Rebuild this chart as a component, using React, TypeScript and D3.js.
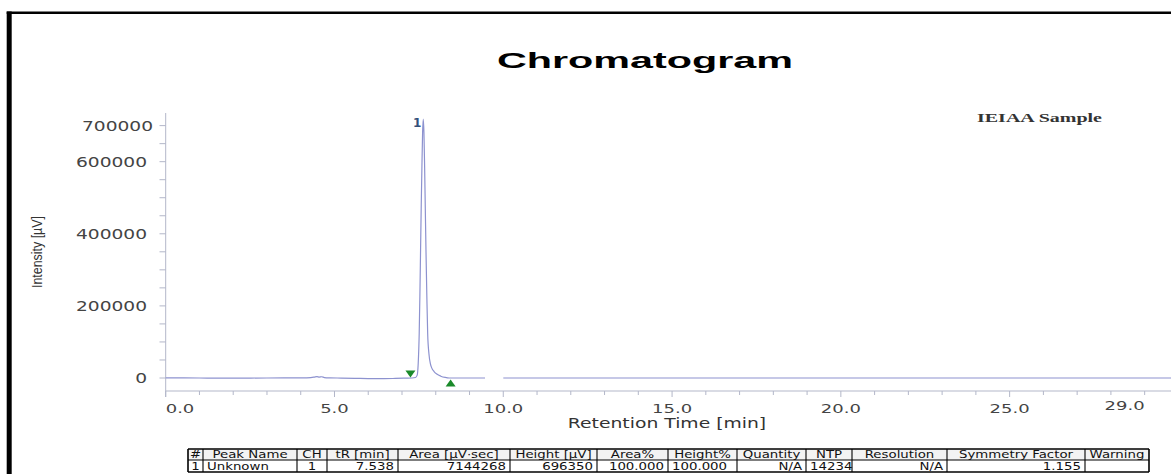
import React from 'react';
import * as d3 from 'd3';

// ---- data ----
const timeMin: number[] = [
  0, 0.5, 1.0, 1.5, 2.0, 2.5, 3.0, 3.5, 4.0, 4.3, 4.4, 4.48, 4.55, 4.62, 4.7, 4.85,
  5.2, 5.6, 6.0, 6.4, 6.8, 7.1, 7.3, 7.4, 7.45, 7.48, 7.51, 7.53, 7.55, 7.57, 7.59,
  7.61, 7.63, 7.65, 7.67, 7.69, 7.71, 7.735, 7.76, 7.8, 7.84, 7.88, 7.95, 8.03, 8.15,
  8.28, 8.4, 8.8, 9.2, 9.46, 9.7, 10.0, 12, 15, 18, 21, 24, 27, 29.78,
];
const intensityUV: (number | null)[] = [
  300, 100, 0, -200, -300, -100, 0, 200, 500, 1200, 2500, 4000, 2600, 3400, 1200, 300,
  -200, -800, -1500, -1800, -1200, -500, 0, 1500, 8000, 40000, 125000, 230000, 355000, 480000, 586000,
  680000, 718000, 680000, 586000, 470000, 355000, 230000, 125000, 65000, 40000, 28000, 18000, 11000, 5000,
  1500, 0, 0, 0, 0, null, 0, 0, 0, 0, 0, 0, 0, 0,
];
const peakNumbers = ['1'];
const peakApexTime = [7.63];
const peakApexValue = [718000];
const markerTimes = [7.25, 8.44];
const markerKinds = ['start', 'end'];

const xTickLabels = [0, 5, 10, 15, 20, 25, 29];
const xMinorTicks = d3.range(0, 30, 1);
const yTickLabels = [0, 200000, 400000, 600000, 700000];
const yMinorTicks = d3.range(0, 700001, 50000);

const tableHeaders = ['#', 'Peak Name', 'CH', 'tR [min]', 'Area [µV·sec]', 'Height [µV]', 'Area%', 'Height%', 'Quantity', 'NTP', 'Resolution', 'Symmetry Factor', 'Warning'];
const tableRow = ['1', 'Unknown', '1', '7.538', '7144268', '696350', '100.000', '100.000', 'N/A', '14234', 'N/A', '1.155', ''];

// ---- layout ----
const W = 1171;
const H = 474;
const colEdges = [188, 203, 297, 327, 398, 510, 597, 668, 737, 806, 852, 947, 1085, 1149];
const rowAlign = ['middle', 'start', 'middle', 'end', 'end', 'end', 'end', 'start', 'end', 'start', 'end', 'end', 'start'];

const FONT = "'DejaVu Sans', Verdana, sans-serif";

function SText(props: any) {
  const { x, y, sx = 1.37, anchor = 'start', size = 12, weight = 'normal', fill = '#333', family = FONT, children } = props;
  return (
    <text
      transform={`translate(${x},${y}) scale(${sx},1)`}
      textAnchor={anchor}
      fontSize={size}
      fontWeight={weight}
      fill={fill}
      fontFamily={family}
    >
      {children}
    </text>
  );
}

export default function App() {
  const x = d3.scaleLinear().domain([0, 29.78]).range([165.7, 1171]);
  const y = d3.scaleLinear().domain([0, 735000]).range([378, 113]);

  const pts = timeMin.map((t, i) => [t, intensityUV[i]] as [number, number | null]);
  const line = d3
    .line<[number, number | null]>()
    .defined((d) => d[1] !== null)
    .x((d) => x(d[0]))
    .y((d) => y(d[1] as number))
    .curve(d3.curveMonotoneX);

  const axisColor = '#b3b7c9';
  const xAxisY = 391;

  const rowTop = 449;
  const rowMid = 460;
  const rowBot = 472;

  return (
    <svg width={W} height={H} style={{ position: 'absolute', left: 0, top: 0, background: '#fff' }}>
      <rect x={0} y={0} width={W} height={H} fill="#fff" />
      {/* frame */}
      <line x1={6.7} y1={12.8} x2={W} y2={12.8} stroke="#000" strokeWidth={2.6} />
      <line x1={9.2} y1={11.5} x2={9.2} y2={H} stroke="#000" strokeWidth={5} />

      {/* title */}
      <text x={497} y={68} fontFamily="'Liberation Sans', Arial, sans-serif" fontWeight="bold" fontSize={22}
        textLength={296} lengthAdjust="spacingAndGlyphs" fill="#000">Chromatogram</text>

      {/* sample label */}
      <text x={977} y={122} fontFamily="'Liberation Serif', 'Times New Roman', serif" fontWeight="bold" fontSize={12.5}
        textLength={125} lengthAdjust="spacingAndGlyphs" fill="#333">IEIAA Sample</text>

      {/* y axis */}
      <line x1={165.7} y1={113} x2={165.7} y2={397} stroke={axisColor} strokeWidth={1} />
      {yMinorTicks.map((v) => (
        <line key={'yt' + v} x1={159.5} x2={165.7} y1={y(v)} y2={y(v)} stroke={axisColor} strokeWidth={1} />
      ))}
      {yTickLabels.map((v) => (
        <SText key={'yl' + v} x={v === 700000 ? 153 : 147} y={y(v) + 5} anchor="end" size={13.5} sx={1.38} fill="#444">
          {String(v)}
        </SText>
      ))}
      <text transform="translate(42,252) rotate(-90)" textAnchor="middle" fontSize={14}
        fontFamily="'Liberation Sans Narrow', 'Liberation Sans', Arial, sans-serif" textLength={72}
        lengthAdjust="spacingAndGlyphs" fill="#333">Intensity [µV]</text>

      {/* x axis */}
      <line x1={165.7} y1={xAxisY} x2={W} y2={xAxisY} stroke={axisColor} strokeWidth={1} />
      {xMinorTicks.map((t) => (
        <line key={'xt' + t} x1={x(t)} x2={x(t)} y1={xAxisY} y2={xAxisY + (t % 5 === 0 ? 6 : 4)} stroke={axisColor} strokeWidth={1} />
      ))}
      {xTickLabels.map((t, i) => {
        const anchor = i === 0 ? 'start' : i === xTickLabels.length - 1 ? 'end' : 'middle';
        const yy = i === xTickLabels.length - 1 ? 410 : 413;
        return (
          <SText key={'xl' + t} x={x(t)} y={yy} anchor={anchor} size={12} sx={1.5} fill="#444">
            {t.toFixed(1)}
          </SText>
        );
      })}
      <SText x={667} y={428} anchor="middle" size={13.7} sx={1.37} fill="#333">Retention Time [min]</SText>

      {/* signal */}
      <path d={line(pts) || ''} fill="none" stroke="#8d92cf" strokeWidth={1.2} />

      {/* peak label */}
      {peakNumbers.map((p, i) => (
        <text key={'pk' + p} x={x(peakApexTime[i]) - 6} y={y(peakApexValue[i]) + 8} textAnchor="middle"
          fontFamily={FONT} fontWeight="bold" fontSize={12} fill="#34507a">{p}</text>
      ))}

      {/* markers */}
      {markerTimes.map((t, i) => {
        const cx = x(t);
        const by = y(0);
        const d = markerKinds[i] === 'start'
          ? `M${cx - 5},${by - 7.5} L${cx + 5},${by - 7.5} L${cx},${by - 0.5} Z`
          : `M${cx - 5},${by + 8.5} L${cx + 5},${by + 8.5} L${cx},${by + 1.5} Z`;
        return <path key={'mk' + i} d={d} fill="#1a8a2a" />;
      })}

      {/* table */}
      <rect x={colEdges[0]} y={rowTop} width={colEdges[colEdges.length - 1] - colEdges[0]} height={rowMid - rowTop} fill="#f3f3f3" />
      {tableHeaders.map((h, i) => {
        const cx = (colEdges[i] + colEdges[i + 1]) / 2;
        return (
          <SText key={'th' + i} x={cx} y={rowMid - 2.5} anchor="middle" size={9.8} sx={1.36} fill="#111">{h}</SText>
        );
      })}
      {tableRow.map((v, i) => {
        const a = rowAlign[i];
        const xx = a === 'middle' ? (colEdges[i] + colEdges[i + 1]) / 2 : a === 'start' ? colEdges[i] + 4 : colEdges[i + 1] - 4;
        return (
          <SText key={'td' + i} x={xx} y={rowBot - 2.5} anchor={a} size={9.8} sx={1.36} fill="#111">{v}</SText>
        );
      })}
      {colEdges.map((cx, i) => (
        <line key={'cv' + i} x1={cx} x2={cx} y1={rowTop} y2={rowBot} stroke="#000" strokeWidth={i === 0 || i === colEdges.length - 1 ? 1.6 : 1.1} />
      ))}
      <line x1={colEdges[0]} x2={colEdges[colEdges.length - 1]} y1={rowTop} y2={rowTop} stroke="#000" strokeWidth={1.6} />
      <line x1={colEdges[0]} x2={colEdges[colEdges.length - 1]} y1={rowMid} y2={rowMid} stroke="#000" strokeWidth={1.1} />
      <line x1={colEdges[0]} x2={colEdges[colEdges.length - 1]} y1={rowBot} y2={rowBot} stroke="#000" strokeWidth={1.6} />
    </svg>
  );
}
